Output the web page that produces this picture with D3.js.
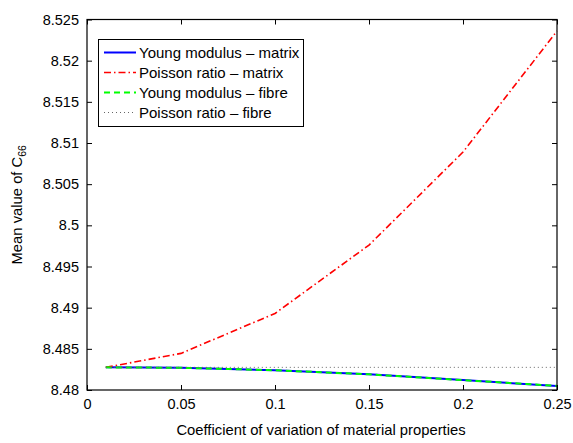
<!DOCTYPE html>
<html><head><meta charset="utf-8">
<script src="https://cdn.jsdelivr.net/npm/d3@7"></script>
<style>body{margin:0;background:#fff}svg{display:block}text{font-family:"Liberation Sans",Arial,Helvetica,sans-serif}</style>
</head><body><svg id="c" width="573" height="443"></svg>
<script>
const cov = [0.01, 0.05, 0.1, 0.15, 0.2, 0.25];
const youngMatrix = [8.48275, 8.4827, 8.4824, 8.4819, 8.4812, 8.4805];
const poissonMatrix = [8.48275, 8.48445, 8.4893, 8.4976, 8.5089, 8.5236];
const youngFibre = [8.48275, 8.4827, 8.4824, 8.4819, 8.4812, 8.4805];
const poissonFibre = [8.48275, 8.48275, 8.48275, 8.48275, 8.48275, 8.48275];
const xTicks = [0, 0.05, 0.1, 0.15, 0.2, 0.25];
const yTicks = [8.48, 8.485, 8.49, 8.495, 8.5, 8.505, 8.51, 8.515, 8.52, 8.525];
const seriesNames = ["Young modulus \u2013 matrix", "Poisson ratio \u2013 matrix", "Young modulus \u2013 fibre", "Poisson ratio \u2013 fibre"];

const svg = d3.select("#c");
const L = 87, R = 557, T = 19.5, B = 390;
const x = d3.scaleLinear().domain([0, 0.25]).range([L, R]);
const y = d3.scaleLinear().domain([8.48, 8.525]).range([B, T]);

const styles = [
  {color: "#0000ff", dash: null, w: 2},
  {color: "#ff0000", dash: "7,3,1.5,3", w: 1.6},
  {color: "#00ff00", dash: "6,4", w: 2},
  {color: "#666666", dash: "1,3", w: 1}
];
const data = [youngMatrix, poissonMatrix, youngFibre, poissonFibre];

const fmt = d => String(+d.toFixed(4));
const xa = svg.append("g").attr("transform", `translate(0,${B})`)
  .call(d3.axisBottom(x).tickValues(xTicks).tickFormat(fmt).tickSizeInner(-5).tickSizeOuter(0).tickPadding(9));
const xa2 = svg.append("g").attr("transform", `translate(0,${T})`)
  .call(d3.axisTop(x).tickValues(xTicks).tickFormat("").tickSizeInner(-5).tickSizeOuter(0));
const ya = svg.append("g").attr("transform", `translate(${L},0)`)
  .call(d3.axisLeft(y).tickValues(yTicks).tickFormat(fmt).tickSizeInner(-5).tickSizeOuter(0).tickPadding(8));
const ya2 = svg.append("g").attr("transform", `translate(${R},0)`)
  .call(d3.axisRight(y).tickValues(yTicks).tickFormat("").tickSizeInner(-5).tickSizeOuter(0));
[xa, xa2, ya, ya2].forEach(a => {
  a.selectAll("path.domain").remove();
  a.selectAll("line").attr("stroke", "#000");
  a.selectAll("text").attr("font-size", 14.5).attr("fill", "#000").style("font-family", '"Liberation Sans",Arial,sans-serif');
});

const line = d3.line().x((d, i) => x(cov[i])).y(d => y(d));
data.forEach((s, k) => {
  svg.append("path").datum(s).attr("d", line).attr("fill", "none")
    .attr("stroke", styles[k].color).attr("stroke-width", styles[k].w)
    .attr("stroke-dasharray", styles[k].dash);
});

svg.append("rect").attr("x", L).attr("y", T).attr("width", R - L).attr("height", B - T)
  .attr("fill", "none").attr("stroke", "#000").attr("stroke-width", 1.2);

// legend
const lg = svg.append("g");
lg.append("rect").attr("x", 98.5).attr("y", 39.5).attr("width", 205).attr("height", 87)
  .attr("fill", "#fff").attr("stroke", "#000").attr("stroke-width", 1);
seriesNames.forEach((n, k) => {
  const yy = 52.5 + k * 20;
  lg.append("line").attr("x1", 104).attr("x2", 136).attr("y1", yy).attr("y2", yy)
    .attr("stroke", styles[k].color).attr("stroke-width", styles[k].w).attr("stroke-dasharray", styles[k].dash);
  lg.append("text").attr("x", 139).attr("y", yy + 5).attr("font-size", 15).text(n);
});

svg.append("text").attr("x", (L + R) / 2 - 1).attr("y", 435).attr("text-anchor", "middle")
  .attr("font-size", 14.8).text("Coefficient of variation of material properties");
const yl = svg.append("text").attr("transform", `translate(22,${(T + B) / 2}) rotate(-90)`)
  .attr("text-anchor", "middle").attr("font-size", 14.8);
yl.append("tspan").text("Mean value of C");
yl.append("tspan").attr("font-size", 10.5).attr("dy", 4).text("66");
</script></body></html>
